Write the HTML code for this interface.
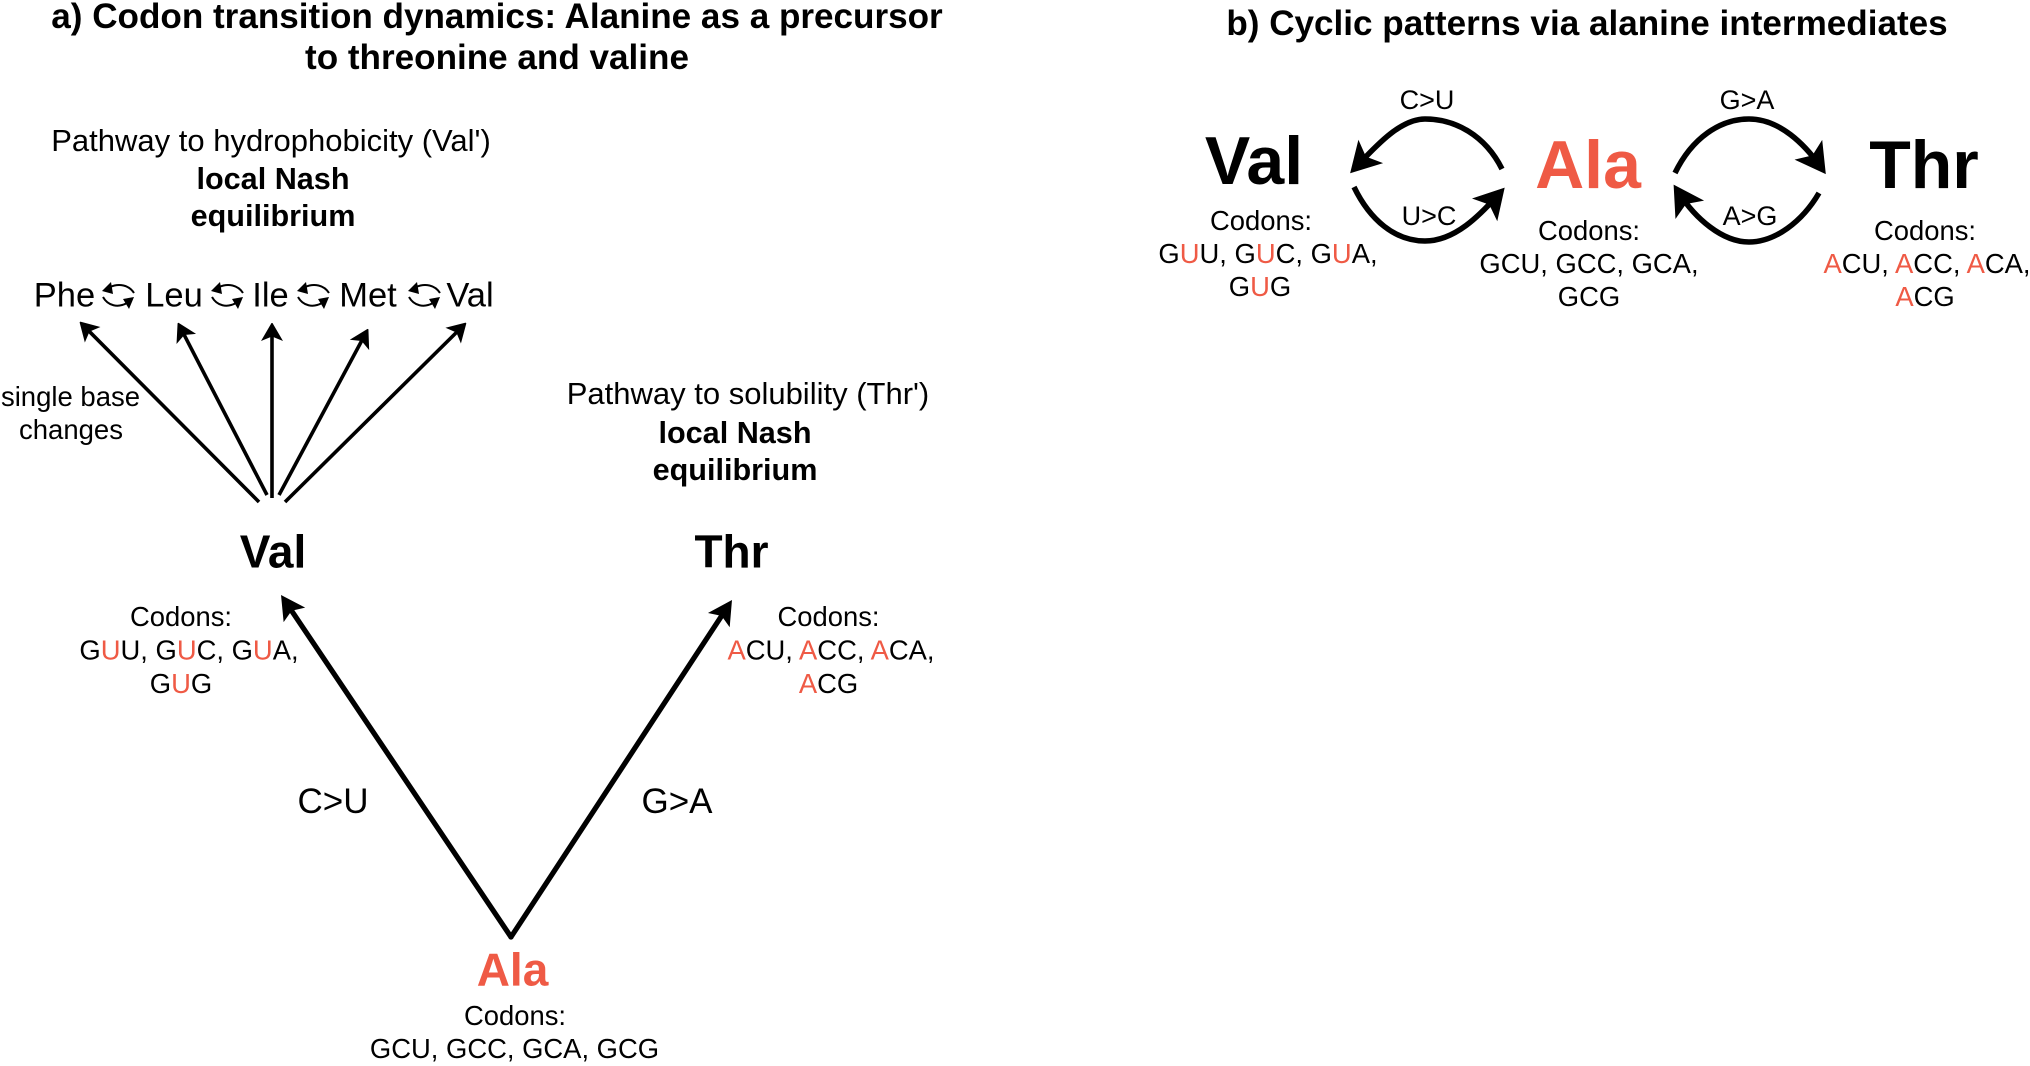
<!DOCTYPE html>
<html><head><meta charset="utf-8">
<style>
html,body{margin:0;padding:0;background:#fff;width:2030px;height:1066px;overflow:hidden}
svg{display:block}
text{font-family:"Liberation Sans",Arial,sans-serif;fill:#000;text-anchor:middle}
.t{font-weight:bold;font-size:35.1px}
.p{font-size:31px}
.b{font-weight:bold;font-size:30.6px}
.aa{font-weight:bold;font-size:46px}
.bb{font-weight:bold;font-size:68px}
.c{font-size:27.4px}
.n{font-size:34.5px}
.m{font-size:35px}
.s{font-size:27.5px}
.l{font-size:27px}
.r{fill:#ef5a45}
.line{fill:none;stroke:#000}
</style></head><body>
<svg width="2030" height="1066" viewBox="0 0 2030 1066" xmlns="http://www.w3.org/2000/svg">
<defs>
<marker id="h1" markerUnits="userSpaceOnUse" markerWidth="24" markerHeight="24" refX="10" refY="11" orient="auto" overflow="visible"><path d="M0,0 L18,10.5 L18,11.5 L0,22 L4.5,11 Z" fill="#000"/></marker>
<marker id="h2" markerUnits="userSpaceOnUse" markerWidth="28" markerHeight="28" refX="14" refY="13" orient="auto" overflow="visible"><path d="M0,0 L24,13 L0,26 L5,13 Z" fill="#000"/></marker>
<marker id="h3" markerUnits="userSpaceOnUse" markerWidth="40" markerHeight="40" refX="20" refY="17" orient="auto" overflow="visible"><path d="M0,0 L30,17 L0,34 L7,17 Z" fill="#000"/></marker>
<g id="cy">
<path d="M32,11 C27,3 17,1 8,5" fill="none" stroke="#000" stroke-width="2"/>
<polygon points="0,9 9,0 11,12" fill="#000"/>
<path d="M1,15 C6,24 16,26 25,21" fill="none" stroke="#000" stroke-width="2"/>
<polygon points="32,15 21,17 27,27" fill="#000"/>
</g>
</defs>

<!-- Titles -->
<text class="t" x="497" y="28">a) Codon transition dynamics: Alanine as a precursor</text>
<text class="t" x="497" y="69">to threonine and valine</text>
<text class="t" x="1587" y="35">b) Cyclic patterns via alanine intermediates</text>

<!-- Panel a: top text -->
<text class="p" x="271" y="151">Pathway to hydrophobicity (Val')</text>
<text class="b" x="273" y="189">local Nash</text>
<text class="b" x="273" y="226">equilibrium</text>
<text class="p" x="748" y="404">Pathway to solubility (Thr')</text>
<text class="b" x="735" y="443">local Nash</text>
<text class="b" x="735" y="480">equilibrium</text>

<!-- Residue row -->
<text class="n" x="64.5" y="306.5">Phe</text>
<text class="n" x="174" y="306.5">Leu</text>
<text class="n" x="270.5" y="306.5">Ile</text>
<text class="n" x="368" y="306.5">Met</text>
<text class="n" x="470" y="306.5">Val</text>
<use href="#cy" x="102" y="282"/>
<use href="#cy" x="211" y="282"/>
<use href="#cy" x="297" y="282"/>
<use href="#cy" x="408" y="282"/>

<text class="s" x="70.5" y="406">single base</text>
<text class="s" x="71" y="439">changes</text>

<!-- Fan arrows -->
<g>
<path class="line" stroke-width="3.6" d="M259,502 L85.6,327.7" marker-end="url(#h1)"/>
<path class="line" stroke-width="3.6" d="M267,495 L181.7,330.1" marker-end="url(#h1)"/>
<path class="line" stroke-width="3.6" d="M272,498 L272,331" marker-end="url(#h1)"/>
<path class="line" stroke-width="3.6" d="M279,495 L364.2,336.1" marker-end="url(#h1)"/>
<path class="line" stroke-width="3.6" d="M285,502 L460.3,328.6" marker-end="url(#h1)"/>
</g>

<!-- Val / Thr / Ala panel a -->
<text class="aa" x="273" y="567.5">Val</text>
<text class="aa" x="731.5" y="567.5">Thr</text>
<text class="aa r" x="512.5" y="985.5">Ala</text>

<text class="c" x="181" y="626">Codons:</text>
<text class="c" x="189" y="659.5">G<tspan class="r">U</tspan>U, G<tspan class="r">U</tspan>C, G<tspan class="r">U</tspan>A,</text>
<text class="c" x="181" y="693">G<tspan class="r">U</tspan>G</text>

<text class="c" x="828.5" y="626">Codons:</text>
<text class="c" x="831" y="659.5"><tspan class="r">A</tspan>CU, <tspan class="r">A</tspan>CC, <tspan class="r">A</tspan>CA,</text>
<text class="c" x="828.5" y="693"><tspan class="r">A</tspan>CG</text>

<text class="c" x="515" y="1025">Codons:</text>
<text class="c" x="514.5" y="1058">GCU, GCC, GCA, GCG</text>

<!-- V arrows -->
<path class="line" stroke-width="5.2" stroke-linecap="round" d="M511,937 L286.6,603.3" marker-end="url(#h2)"/>
<path class="line" stroke-width="5.2" stroke-linecap="round" d="M511,937 L726.5,608.4" marker-end="url(#h2)"/>
<text class="m" x="333" y="813">C&gt;U</text>
<text class="m" x="677" y="813">G&gt;A</text>

<!-- Panel b -->
<text class="bb" x="1254" y="184">Val</text>
<text class="bb r" x="1588" y="188">Ala</text>
<text class="bb" x="1924" y="188">Thr</text>

<text class="c" x="1261" y="230">Codons:</text>
<text class="c" x="1268" y="263">G<tspan class="r">U</tspan>U, G<tspan class="r">U</tspan>C, G<tspan class="r">U</tspan>A,</text>
<text class="c" x="1260" y="296">G<tspan class="r">U</tspan>G</text>

<text class="c" x="1589" y="240">Codons:</text>
<text class="c" x="1589" y="273">GCU, GCC, GCA,</text>
<text class="c" x="1589" y="306">GCG</text>

<text class="c" x="1925" y="240">Codons:</text>
<text class="c" x="1927" y="273"><tspan class="r">A</tspan>CU, <tspan class="r">A</tspan>CC, <tspan class="r">A</tspan>CA,</text>
<text class="c" x="1925" y="306"><tspan class="r">A</tspan>CG</text>

<text class="l" x="1427" y="109">C&gt;U</text>
<text class="l" x="1747" y="109">G&gt;A</text>
<text class="l" x="1429" y="225">U&gt;C</text>
<text class="l" x="1750" y="225">A&gt;G</text>

<path class="line" stroke-width="5.5" d="M1502,169 C1485,135 1455,119 1425,119 C1400,119 1375,147 1357,166" marker-end="url(#h3)"/>
<path class="line" stroke-width="5.5" d="M1354,187 C1370,220 1395,241 1425,241 C1455,241 1480,215 1498,195" marker-end="url(#h3)"/>
<path class="line" stroke-width="5.5" d="M1675,173 C1692,138 1720,119 1749,119 C1780,119 1805,145 1820,166" marker-end="url(#h3)"/>
<path class="line" stroke-width="5.5" d="M1819,193 C1802,222 1775,242 1749,242 C1722,242 1695,218 1679,193" marker-end="url(#h3)"/>
</svg>
</body></html>
